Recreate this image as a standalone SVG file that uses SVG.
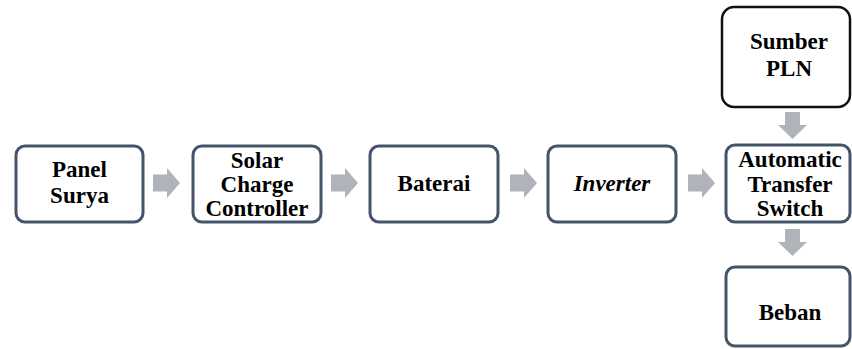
<svg xmlns="http://www.w3.org/2000/svg" width="852" height="349" viewBox="0 0 852 349">
<rect width="852" height="349" fill="#ffffff"/>
<g id="connectors" fill="#b0b3ba">
<polygon points="153,174.5 167,174.5 167,168 180,183 167,198 167,191.5 153,191.5"/>
<polygon points="331,174.5 345,174.5 345,168 358,183 345,198 345,191.5 331,191.5"/>
<polygon points="510,174.5 524,174.5 524,168 537,183 524,198 524,191.5 510,191.5"/>
<polygon points="688,174.5 702,174.5 702,168 715,183 702,198 702,191.5 688,191.5"/>
<polygon points="785,112 800,112 800,125 807,125 792.5,139 778,125 785,125"/>
<polygon points="785,229 800,229 800,242 807,242 792.5,256 778,242 785,242"/>
</g>
<g id="panel-surya">
<rect x="16" y="146" width="127" height="76" rx="9" fill="#fff" stroke="#44546a" stroke-width="3"/>
<text x="79.5" y="177" font-family="Times New Roman, Liberation Serif, serif" font-weight="bold" font-size="23" text-anchor="middle">Panel</text>
<text x="79.5" y="203" font-family="Times New Roman, Liberation Serif, serif" font-weight="bold" font-size="23" text-anchor="middle">Surya</text>
</g>
<g id="scc">
<rect x="193" y="146" width="128" height="76" rx="9" fill="#fff" stroke="#44546a" stroke-width="3"/>
<text x="257" y="168" font-family="Times New Roman, Liberation Serif, serif" font-weight="bold" font-size="23" text-anchor="middle">Solar</text>
<text x="257" y="192" font-family="Times New Roman, Liberation Serif, serif" font-weight="bold" font-size="23" text-anchor="middle">Charge</text>
<text x="257" y="216" font-family="Times New Roman, Liberation Serif, serif" font-weight="bold" font-size="23" text-anchor="middle">Controller</text>
</g>
<g id="baterai">
<rect x="370" y="146" width="128" height="76" rx="9" fill="#fff" stroke="#44546a" stroke-width="3"/>
<text x="434" y="191" font-family="Times New Roman, Liberation Serif, serif" font-weight="bold" font-size="23" text-anchor="middle">Baterai</text>
</g>
<g id="inverter">
<rect x="548" y="146" width="128" height="76" rx="9" fill="#fff" stroke="#44546a" stroke-width="3"/>
<text x="612" y="191" font-family="Times New Roman, Liberation Serif, serif" font-weight="bold" font-style="italic" font-size="23" text-anchor="middle">Inverter</text>
</g>
<g id="pln">
<rect x="722" y="7" width="128" height="100" rx="12" fill="#fff" stroke="#111111" stroke-width="2.5"/>
<text x="789" y="49" font-family="Times New Roman, Liberation Serif, serif" font-weight="bold" font-size="23" text-anchor="middle">Sumber</text>
<text x="789" y="76" font-family="Times New Roman, Liberation Serif, serif" font-weight="bold" font-size="23" text-anchor="middle">PLN</text>
</g>
<g id="ats">
<rect x="726" y="145" width="124" height="77" rx="9" fill="#fff" stroke="#44546a" stroke-width="3"/>
<text x="790" y="167" font-family="Times New Roman, Liberation Serif, serif" font-weight="bold" font-size="23" text-anchor="middle">Automatic</text>
<text x="790" y="192" font-family="Times New Roman, Liberation Serif, serif" font-weight="bold" font-size="23" text-anchor="middle">Transfer</text>
<text x="790" y="216" font-family="Times New Roman, Liberation Serif, serif" font-weight="bold" font-size="23" text-anchor="middle">Switch</text>
</g>
<g id="beban">
<rect x="726" y="267" width="124" height="79" rx="9" fill="#fff" stroke="#44546a" stroke-width="3"/>
<text x="790" y="320" font-family="Times New Roman, Liberation Serif, serif" font-weight="bold" font-size="23" text-anchor="middle">Beban</text>
</g>
</svg>
